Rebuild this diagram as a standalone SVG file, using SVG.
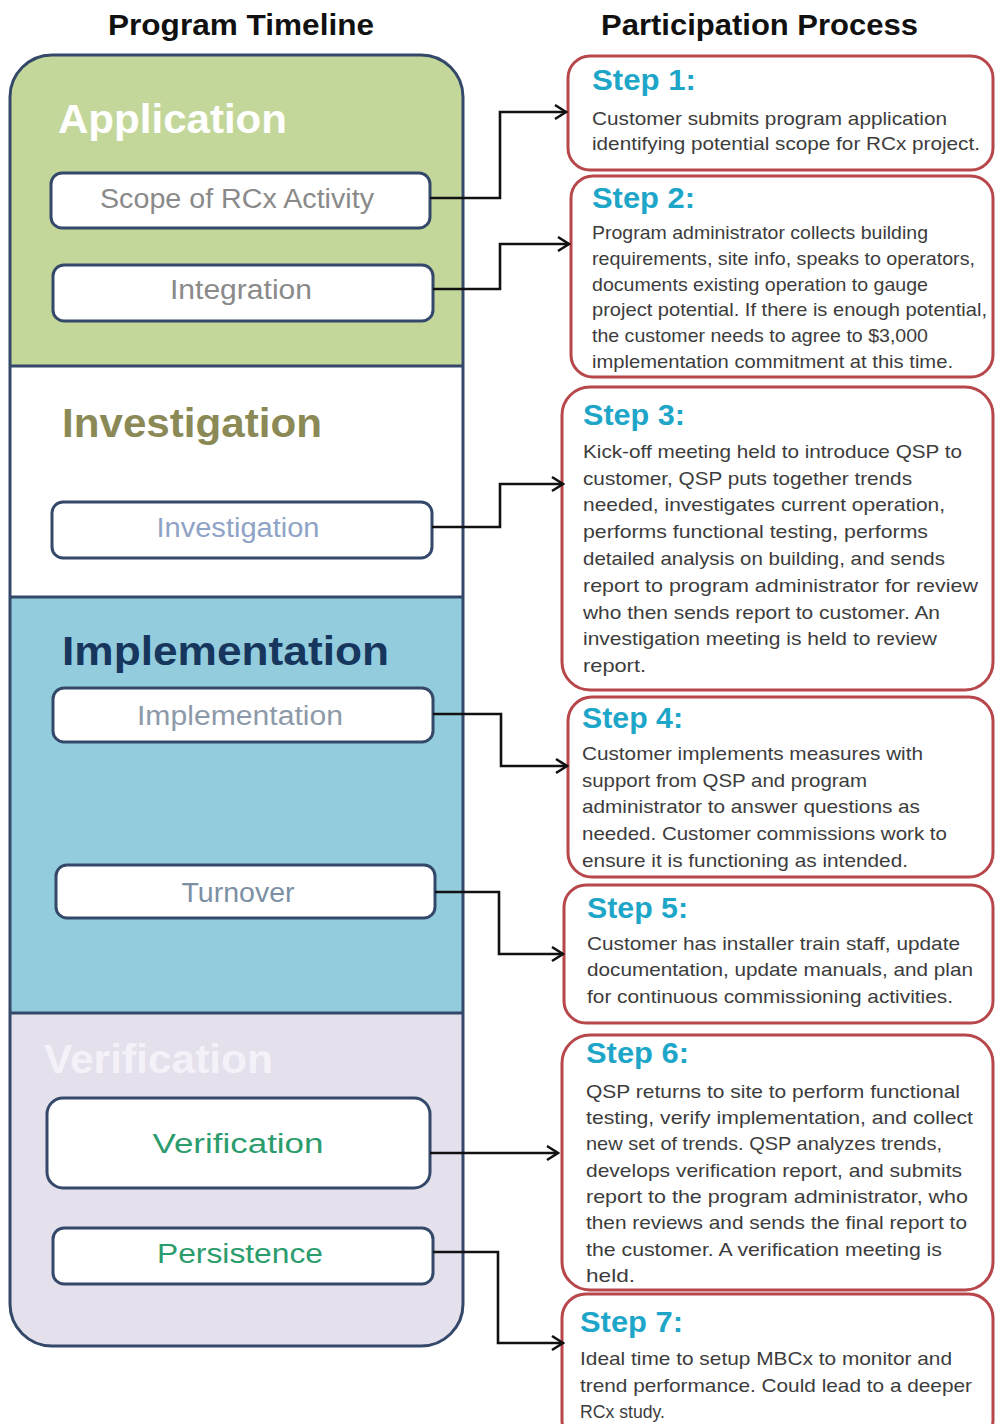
<svg xmlns="http://www.w3.org/2000/svg" width="996" height="1424" viewBox="0 0 996 1424">
<style>
.hdr{font-family:"Liberation Sans",Arial,sans-serif;font-weight:bold;font-size:29px;fill:#111}
.sec{font-family:"Liberation Sans",Arial,sans-serif;font-weight:bold;font-size:40px}
.sub{fill:#fff;stroke:#34496a;stroke-width:3}
.lbl{font-family:"Liberation Sans",Arial,sans-serif;font-size:27px;text-anchor:middle}
.step{fill:#fff;stroke:#b8474c;stroke-width:3}
.st{font-family:"Liberation Sans",Arial,sans-serif;font-weight:bold;font-size:29px;fill:#1ea6c9}
.bd{font-family:"Liberation Sans",Arial,sans-serif;font-size:19px;fill:#3c3c3c}
.con{fill:none;stroke:#111;stroke-width:2.6;marker-end:url(#arr)}
.sep{stroke:#34496a;stroke-width:3}
</style>
<defs>
<clipPath id="outerClip"><rect x="10" y="55" width="453" height="1291" rx="42" ry="42"/></clipPath>
<marker id="arr" markerUnits="userSpaceOnUse" markerWidth="16" markerHeight="18" viewBox="-14 -9 16 18" refX="0" refY="0" orient="auto"><path d="M-11,-7 L0,0 L-11,7" fill="none" stroke="#111" stroke-width="2.6"/></marker>
</defs>
<rect width="996" height="1424" fill="#fff"/>
<text class="hdr" x="108" y="35" textLength="266" lengthAdjust="spacingAndGlyphs">Program Timeline</text>
<text class="hdr" x="601" y="35" textLength="317" lengthAdjust="spacingAndGlyphs">Participation Process</text>

<g id="timeline">
<g clip-path="url(#outerClip)">
<rect x="10" y="55" width="453" height="311" fill="#c4d79b"/>
<rect x="10" y="366" width="453" height="231" fill="#ffffff"/>
<rect x="10" y="597" width="453" height="416" fill="#93cddd"/>
<rect x="10" y="1013" width="453" height="333" fill="#e4e0ec"/>
</g>
<line class="sep" x1="10" y1="366" x2="463" y2="366"/>
<line class="sep" x1="10" y1="597" x2="463" y2="597"/>
<line class="sep" x1="10" y1="1013" x2="463" y2="1013"/>
<rect x="10" y="55" width="453" height="1291" rx="42" ry="42" fill="none" stroke="#34496a" stroke-width="3"/>
</g>

<g id="sec-application"><text class="sec" x="58" y="133" fill="#ffffff" textLength="229" lengthAdjust="spacingAndGlyphs">Application</text></g>
<g id="sec-investigation"><text class="sec" x="62" y="437" fill="#8b8a56" textLength="260" lengthAdjust="spacingAndGlyphs">Investigation</text></g>
<g id="sec-implementation"><text class="sec" x="62" y="665" fill="#17365d" textLength="327" lengthAdjust="spacingAndGlyphs">Implementation</text></g>
<g id="sec-verification"><text class="sec" x="44" y="1073" fill="#f4f2f8" textLength="229" lengthAdjust="spacingAndGlyphs">Verification</text></g>

<g id="box-scope"><rect class="sub" x="51" y="173" width="379" height="55" rx="11"/><text class="lbl" x="237" y="208" fill="#8a8a8a" textLength="274" lengthAdjust="spacingAndGlyphs">Scope of RCx Activity</text></g>
<g id="box-integration"><rect class="sub" x="53" y="265" width="380" height="56" rx="11"/><text class="lbl" x="241" y="299" fill="#8a8a8a" textLength="142" lengthAdjust="spacingAndGlyphs">Integration</text></g>
<g id="box-investigation"><rect class="sub" x="52" y="502" width="380" height="56" rx="11"/><text class="lbl" x="238" y="537" fill="#8fa3c6" textLength="163" lengthAdjust="spacingAndGlyphs">Investigation</text></g>
<g id="box-implementation"><rect class="sub" x="53" y="688" width="380" height="54" rx="11"/><text class="lbl" x="240" y="725" fill="#8d9aa9" textLength="206" lengthAdjust="spacingAndGlyphs">Implementation</text></g>
<g id="box-turnover"><rect class="sub" x="56" y="865" width="379" height="53" rx="11"/><text class="lbl" x="238" y="902" fill="#7c90a4" textLength="113" lengthAdjust="spacingAndGlyphs">Turnover</text></g>
<g id="box-verification"><rect class="sub" x="47" y="1098" width="383" height="90" rx="16"/><text class="lbl" x="238" y="1153" fill="#2b9c6c" font-size="30" textLength="171" lengthAdjust="spacingAndGlyphs">Verification</text></g>
<g id="box-persistence"><rect class="sub" x="53" y="1228" width="380" height="56" rx="11"/><text class="lbl" x="240" y="1263" fill="#2b9c6c" font-size="30" textLength="166" lengthAdjust="spacingAndGlyphs">Persistence</text></g>

<g id="step1">
<rect class="step" x="568" y="56" width="425" height="114" rx="22"/>
<text class="st" x="592" y="90" textLength="104" lengthAdjust="spacingAndGlyphs">Step 1:</text>
<text class="bd" x="592" y="125" textLength="355" lengthAdjust="spacingAndGlyphs">Customer submits program application</text>
<text class="bd" x="592" y="150" textLength="388" lengthAdjust="spacingAndGlyphs">identifying potential scope for RCx project.</text>
</g>
<g id="step2">
<rect class="step" x="571" y="176" width="422" height="201" rx="22"/>
<text class="st" x="592" y="208" textLength="103" lengthAdjust="spacingAndGlyphs">Step 2:</text>
<text class="bd" x="592" y="239" textLength="336" lengthAdjust="spacingAndGlyphs">Program administrator collects building</text>
<text class="bd" x="592" y="265" textLength="383" lengthAdjust="spacingAndGlyphs">requirements, site info, speaks to operators,</text>
<text class="bd" x="592" y="291" textLength="336" lengthAdjust="spacingAndGlyphs">documents existing operation to gauge</text>
<text class="bd" x="592" y="316" textLength="395" lengthAdjust="spacingAndGlyphs">project potential. If there is enough potential,</text>
<text class="bd" x="592" y="342" textLength="336" lengthAdjust="spacingAndGlyphs">the customer needs to agree to $3,000</text>
<text class="bd" x="592" y="368" textLength="361" lengthAdjust="spacingAndGlyphs">implementation commitment at this time.</text>
</g>
<g id="step3">
<rect class="step" x="562" y="387" width="431" height="303" rx="28"/>
<text class="st" x="583" y="425" textLength="102" lengthAdjust="spacingAndGlyphs">Step 3:</text>
<text class="bd" x="583" y="458" textLength="379" lengthAdjust="spacingAndGlyphs">Kick-off meeting held to introduce QSP to</text>
<text class="bd" x="583" y="485" textLength="329" lengthAdjust="spacingAndGlyphs">customer, QSP puts together trends</text>
<text class="bd" x="583" y="511" textLength="362" lengthAdjust="spacingAndGlyphs">needed, investigates current operation,</text>
<text class="bd" x="583" y="538" textLength="345" lengthAdjust="spacingAndGlyphs">performs functional testing, performs</text>
<text class="bd" x="583" y="565" textLength="362" lengthAdjust="spacingAndGlyphs">detailed analysis on building, and sends</text>
<text class="bd" x="583" y="592" textLength="395" lengthAdjust="spacingAndGlyphs">report to program administrator for review</text>
<text class="bd" x="583" y="619" textLength="357" lengthAdjust="spacingAndGlyphs">who then sends report to customer. An</text>
<text class="bd" x="583" y="645" textLength="354" lengthAdjust="spacingAndGlyphs">investigation meeting is held to review</text>
<text class="bd" x="583" y="672" textLength="63" lengthAdjust="spacingAndGlyphs">report.</text>
</g>
<g id="step4">
<rect class="step" x="568" y="697" width="425" height="180" rx="24"/>
<text class="st" x="582" y="728" textLength="101" lengthAdjust="spacingAndGlyphs">Step 4:</text>
<text class="bd" x="582" y="760" textLength="341" lengthAdjust="spacingAndGlyphs">Customer implements measures with</text>
<text class="bd" x="582" y="787" textLength="285" lengthAdjust="spacingAndGlyphs">support from QSP and program</text>
<text class="bd" x="582" y="813" textLength="338" lengthAdjust="spacingAndGlyphs">administrator to answer questions as</text>
<text class="bd" x="582" y="840" textLength="365" lengthAdjust="spacingAndGlyphs">needed. Customer commissions work to</text>
<text class="bd" x="582" y="867" textLength="326" lengthAdjust="spacingAndGlyphs">ensure it is functioning as intended.</text>
</g>
<g id="step5">
<rect class="step" x="564" y="885" width="429" height="138" rx="22"/>
<text class="st" x="587" y="918" textLength="101" lengthAdjust="spacingAndGlyphs">Step 5:</text>
<text class="bd" x="587" y="950" textLength="373" lengthAdjust="spacingAndGlyphs">Customer has installer train staff, update</text>
<text class="bd" x="587" y="976" textLength="386" lengthAdjust="spacingAndGlyphs">documentation, update manuals, and plan</text>
<text class="bd" x="587" y="1003" textLength="366" lengthAdjust="spacingAndGlyphs">for continuous commissioning activities.</text>
</g>
<g id="step6">
<rect class="step" x="562" y="1035" width="431" height="255" rx="28"/>
<text class="st" x="586" y="1063" textLength="103" lengthAdjust="spacingAndGlyphs">Step 6:</text>
<text class="bd" x="586" y="1098" textLength="374" lengthAdjust="spacingAndGlyphs">QSP returns to site to perform functional</text>
<text class="bd" x="586" y="1124" textLength="387" lengthAdjust="spacingAndGlyphs">testing, verify implementation, and collect</text>
<text class="bd" x="586" y="1150" textLength="356" lengthAdjust="spacingAndGlyphs">new set of trends. QSP analyzes trends,</text>
<text class="bd" x="586" y="1177" textLength="376" lengthAdjust="spacingAndGlyphs">develops verification report, and submits</text>
<text class="bd" x="586" y="1203" textLength="382" lengthAdjust="spacingAndGlyphs">report to the program administrator, who</text>
<text class="bd" x="586" y="1229" textLength="381" lengthAdjust="spacingAndGlyphs">then reviews and sends the final report to</text>
<text class="bd" x="586" y="1256" textLength="356" lengthAdjust="spacingAndGlyphs">the customer. A verification meeting is</text>
<text class="bd" x="586" y="1282" textLength="49" lengthAdjust="spacingAndGlyphs">held.</text>
</g>
<g id="step7">
<rect class="step" x="562" y="1294" width="431" height="150" rx="24"/>
<text class="st" x="580" y="1332" textLength="103" lengthAdjust="spacingAndGlyphs">Step 7:</text>
<text class="bd" x="580" y="1365" textLength="372" lengthAdjust="spacingAndGlyphs">Ideal time to setup MBCx to monitor and</text>
<text class="bd" x="580" y="1392" textLength="392" lengthAdjust="spacingAndGlyphs">trend performance. Could lead to a deeper</text>
<text class="bd" x="580" y="1418" textLength="85" lengthAdjust="spacingAndGlyphs">RCx study.</text>
</g>

<g id="connectors">
<path class="con" d="M430,198 H500 V112 H566"/>
<path class="con" d="M433,289 H500 V244 H569"/>
<path class="con" d="M432,527 H500 V484 H563"/>
<path class="con" d="M433,714 H501 V766 H567"/>
<path class="con" d="M435,892 H499 V954 H563"/>
<path class="con" d="M430,1153 H558"/>
<path class="con" d="M433,1252 H498 V1343 H563"/>
</g>
</svg>
